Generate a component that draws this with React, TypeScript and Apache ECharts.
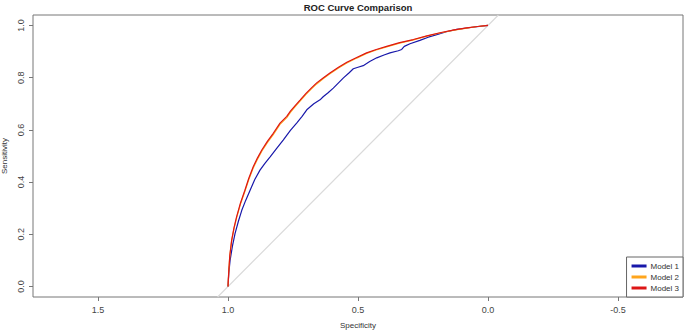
import React, { useEffect, useRef } from "react";
import * as echarts from "echarts";

const seriesNames = ["Model 1", "Model 2", "Model 3"];
const seriesColors = ["#1818AA", "#FFA51C", "#DD1616"];

// [specificity, sensitivity]
const model1: number[][] = [
  [1.0, 0.0], [0.997, 0.05], [0.992, 0.1], [0.983, 0.155], [0.973, 0.203], [0.96, 0.25],
  [0.947, 0.292], [0.932, 0.33], [0.915, 0.369], [0.897, 0.41], [0.877, 0.446], [0.858, 0.472],
  [0.838, 0.497], [0.812, 0.53], [0.787, 0.562], [0.76, 0.598], [0.736, 0.626], [0.715, 0.652],
  [0.697, 0.677], [0.67, 0.7], [0.646, 0.715], [0.633, 0.728], [0.615, 0.742], [0.595, 0.76],
  [0.575, 0.78], [0.556, 0.799], [0.535, 0.818], [0.518, 0.834], [0.5, 0.84], [0.48, 0.846],
  [0.455, 0.862], [0.428, 0.876], [0.4, 0.887], [0.377, 0.895], [0.345, 0.903], [0.332, 0.908],
  [0.322, 0.92], [0.3, 0.93], [0.262, 0.943], [0.23, 0.955], [0.197, 0.965], [0.16, 0.976],
  [0.12, 0.985], [0.06, 0.993], [0.0, 1.0],
];
const model2: number[][] = [
  [1.0, 0.0], [0.997, 0.059], [0.993, 0.118], [0.986, 0.175], [0.977, 0.222], [0.967, 0.263],
  [0.952, 0.316], [0.935, 0.365], [0.92, 0.41], [0.903, 0.454], [0.887, 0.487], [0.87, 0.518],
  [0.848, 0.552], [0.826, 0.582], [0.8, 0.621], [0.774, 0.647], [0.76, 0.667], [0.74, 0.691],
  [0.723, 0.71], [0.7, 0.736], [0.68, 0.756], [0.659, 0.776], [0.633, 0.797], [0.608, 0.815],
  [0.575, 0.837], [0.543, 0.856], [0.505, 0.875], [0.467, 0.893], [0.43, 0.906], [0.39, 0.918],
  [0.34, 0.932], [0.287, 0.945], [0.235, 0.959], [0.185, 0.971], [0.13, 0.982], [0.082, 0.99],
  [0.04, 0.996], [0.0, 1.0],
];
const model3: number[][] = [
  [1.0, 0.0], [0.997, 0.06], [0.993, 0.12], [0.986, 0.177], [0.977, 0.225], [0.967, 0.267],
  [0.952, 0.32], [0.935, 0.369], [0.92, 0.415], [0.903, 0.459], [0.887, 0.492], [0.87, 0.523],
  [0.848, 0.557], [0.826, 0.587], [0.8, 0.626], [0.774, 0.652], [0.76, 0.672], [0.74, 0.695],
  [0.723, 0.714], [0.7, 0.74], [0.68, 0.76], [0.659, 0.78], [0.633, 0.8], [0.608, 0.818],
  [0.575, 0.84], [0.543, 0.859], [0.505, 0.877], [0.467, 0.895], [0.43, 0.908], [0.39, 0.92],
  [0.34, 0.934], [0.287, 0.946], [0.235, 0.96], [0.185, 0.972], [0.13, 0.983], [0.082, 0.991],
  [0.04, 0.996], [0.0, 1.0],
];
const diagonal: number[][] = [[1.04, -0.04], [-0.04, 1.04]];
const xTicks = [1.5, 1.0, 0.5, 0.0, -0.5];
const yTicks = [0.0, 0.2, 0.4, 0.6, 0.8, 1.0];

export default function App() {
  const ref = useRef<HTMLDivElement>(null);
  useEffect(() => {
    if (!ref.current) return;
    const chart = echarts.init(ref.current, undefined, { renderer: "svg" });
    const font = "Liberation Sans, Arial, sans-serif";
    const allData = [model1, model2, model3];
    chart.setOption({
      animation: false,
      backgroundColor: "#fff",
      textStyle: { fontFamily: font },
      title: {
        text: "ROC Curve Comparison",
        left: 358,
        textAlign: "center",
        top: 2,
        padding: 0,
        textStyle: { fontSize: 9.5, fontWeight: "bold", color: "#222", fontFamily: font },
      },
      grid: {
        left: 33, right: 3, top: 15, bottom: 34,
        outerBoundsMode: "none",
        containLabel: false,
        show: true, borderColor: "#777", borderWidth: 1, backgroundColor: "transparent",
      },
      legend: {
        right: 3,
        bottom: 34,
        orient: "vertical",
        data: seriesNames,
        icon: "rect",
        itemWidth: 15,
        itemHeight: 3,
        itemGap: 3,
        padding: [5, 4, 5, 5],
        backgroundColor: "#fff",
        borderColor: "#666",
        borderWidth: 1,
        borderRadius: 0,
        textStyle: { fontSize: 8, color: "#333", fontFamily: font, padding: [0, 0, 0, -1] },
      },
      xAxis: {
        type: "value",
        inverse: true,
        min: -0.75,
        max: 1.75,
        name: "Specificity",
        nameLocation: "middle",
        nameGap: 24,
        nameTextStyle: { fontSize: 8, color: "#333", fontFamily: font },
        splitLine: { show: false },
        axisLine: { show: false, onZero: false },
        axisTick: { show: true, length: 4, customValues: xTicks, lineStyle: { color: "#777" } },
        axisLabel: {
          customValues: xTicks,
          fontSize: 9,
          color: "#444",
          margin: 8,
          formatter: (v: number) => v.toFixed(1),
        },
      },
      yAxis: {
        type: "value",
        min: -0.04,
        max: 1.04,
        name: "Sensitivity",
        nameLocation: "middle",
        nameGap: 25,
        nameTextStyle: { fontSize: 8, color: "#333", fontFamily: font },
        splitLine: { show: false },
        axisLine: { show: false, onZero: false },
        axisTick: { show: true, length: 4, customValues: yTicks, lineStyle: { color: "#777" } },
        axisLabel: {
          customValues: yTicks,
          fontSize: 9,
          color: "#444",
          rotate: 90,
          margin: 8,
          formatter: (v: number) => v.toFixed(1),
        },
      },
      series: [
        {
          type: "line",
          name: "diag",
          data: diagonal,
          symbol: "none",
          silent: true,
          clip: true,
          lineStyle: { color: "#DADADA", width: 1.2 },
          z: 1,
        },
        ...seriesNames.map((n, i) => ({
          type: "line",
          name: n,
          data: allData[i],
          symbol: "none",
          smooth: false,
          clip: true,
          color: seriesColors[i],
          lineStyle: { color: seriesColors[i], width: 1.2 },
          z: 2 + i,
        })),
      ],
    });
    return () => chart.dispose();
  }, []);
  return <div ref={ref} style={{ width: 686, height: 331, position: "absolute", left: 0, top: 0 }} />;
}
